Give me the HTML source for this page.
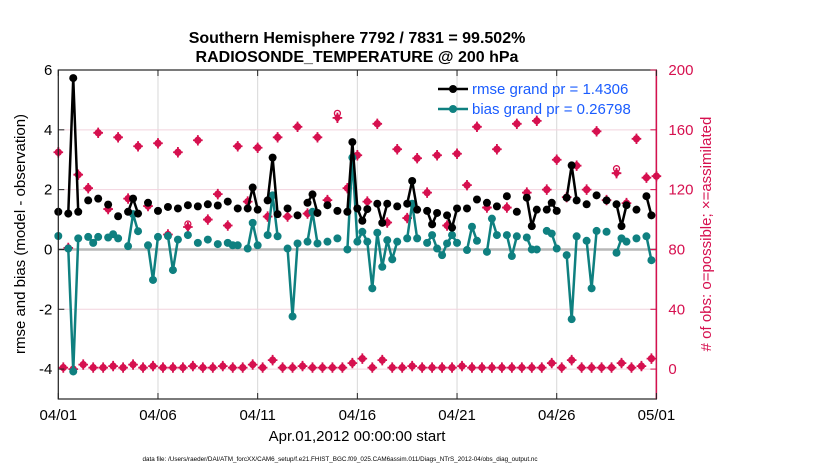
<!DOCTYPE html>
<html><head><meta charset="utf-8"><style>
body{margin:0;background:#fff;}
svg text{font-family:"Liberation Sans",sans-serif;}
</style></head><body>
<svg id="chart" width="830" height="470" viewBox="0 0 830 470" xmlns="http://www.w3.org/2000/svg">
<rect width="830" height="470" fill="#fff"/>
<g id="grid"></g>
<g id="series"></g>
<g id="axes"></g>
<text x="357" y="43" text-anchor="middle" font-size="16" font-weight="bold">Southern Hemisphere 7792 / 7831 = 99.502%</text>
<text x="357" y="62" text-anchor="middle" font-size="16" font-weight="bold">RADIOSONDE_TEMPERATURE @ 200 hPa</text>
<text x="357" y="441" text-anchor="middle" font-size="15">Apr.01,2012 00:00:00 start</text>
<text transform="translate(25,234) rotate(-90)" text-anchor="middle" font-size="15">rmse and bias (model - observation)</text>
<text transform="translate(711,234) rotate(-90)" text-anchor="middle" font-size="15" fill="#d6104f"># of obs: o=possible; ×=assimilated</text>
<text x="340" y="461" text-anchor="middle" font-size="6.3">data file: /Users/raeder/DAI/ATM_forcXX/CAM6_setup/f.e21.FHIST_BGC.f09_025.CAM6assim.011/Diags_NTrS_2012-04/obs_diag_output.nc</text>
<g>
<line x1="438" y1="89" x2="468" y2="89" stroke="#000" stroke-width="2.5"/><circle cx="453" cy="89" r="4" fill="#000"/>
<text x="472" y="94" font-size="15" fill="#1a5cff">rmse grand pr = 1.4306</text>
<line x1="438" y1="109" x2="468" y2="109" stroke="#0f8080" stroke-width="2.5"/><circle cx="453" cy="109" r="4" fill="#0f8080"/>
<text x="472" y="114" font-size="15" fill="#1a5cff">bias grand pr = 0.26798</text>
</g>
</svg>
<script>
const N = 121; // 6-hourly steps, day = k/4
const rmseSteps = [0,2,3,4,6,8,10,12,14,15,16,18,20,22,24,26,28,30,32,34,36,38,39,40,42,43,44,46,48,50,51,52,54,56,58,59,60,61,62,64,65,66,68,70,71,72,74,75,76,78,79,80,82,84,86,88,90,92,94,95,96,98,99,100,102,103,104,106,108,110,112,113,114,116,118,119];
const rmseValues = [1.26,1.2,5.73,1.26,1.64,1.7,1.5,1.11,1.26,1.7,1.2,1.56,1.29,1.42,1.37,1.48,1.44,1.51,1.47,1.6,1.37,1.37,2.07,1.33,1.64,3.07,1.18,1.37,1.14,1.56,1.84,1.22,1.48,1.29,1.26,3.59,1.37,0.96,1.35,1.53,0.89,1.53,1.44,1.53,2.29,1.33,1.29,0.84,1.22,1.14,0.73,1.37,1.37,1.67,1.56,1.44,1.78,1.26,1.73,0.78,1.33,1.33,1.56,1.29,1.73,2.81,1.64,1.51,1.81,1.64,1.51,0.78,1.48,1.33,1.78,1.14];
const biasSteps = [0,2,3,4,6,7,8,10,11,12,14,15,16,18,19,20,22,23,24,26,28,30,32,34,35,36,38,39,40,42,43,44,46,47,48,50,51,52,54,56,58,59,60,61,62,63,64,65,66,67,68,70,71,72,74,75,76,77,78,79,80,82,83,84,86,87,88,90,91,92,94,95,96,98,99,100,102,103,104,106,107,108,110,112,113,114,116,118,119];
const biasValues = [0.45,0.03,-4.08,0.37,0.42,0.22,0.42,0.4,0.51,0.37,0.11,1.18,0.61,0.14,-1.02,0.42,0.45,-0.69,0.33,0.48,0.22,0.33,0.18,0.22,0.14,0.14,0.03,0.89,0.14,0.48,1.81,0.44,0.03,-2.24,0.2,0.26,1.26,0.2,0.26,0.37,0,3.07,0.26,0.59,0.26,-1.3,0.56,-0.58,0.31,-0.33,0.26,0.37,1.53,0.37,0.22,0.48,0.03,-0.19,0.2,0.48,0.22,-0.02,0.76,0.29,-0.08,1.03,0.48,0.48,-0.22,0.44,0.4,0,0,0.62,0.53,0.03,-0.19,-2.33,0.44,0.29,-1.3,0.62,0.59,-0.11,0.37,0.26,0.37,0.44,-0.36];
const obsEven = [145,81,130,121,158,107,155,114,149,109,151,90,145,95,153,100,117,96,149,112,148,102,155,102,162,104,155,113,168,121,143,112,164,98,147,101,141,118,143,96,144,123,162,108,147,108,164,118,166,120,140,115,136,120,159,113,131,111,154,128,129];
const obsOdd = [1,0,3,1,1,2,1,3,1,2,1,1,1,2,1,1,2,1,1,3,1,6,1,1,2,1,1,1,1,4,7,1,6,1,1,2,1,1,1,1,2,1,1,1,1,1,1,1,1,4,1,6,1,1,1,1,4,1,2,7];
const possibleExtra = {56:3,112:3,26:2,12:0};
const xTickLabels = ["04/01","04/06","04/11","04/16","04/21","04/26","05/01"];
const leftTicks = [6,4,2,0,-2,-4];
const rightTicks = [200,160,120,80,40,0];

const X0=58.3, X1=656.4, Y0=70, Y1=399;
const xs = d => X0 + (X1-X0)*d/30;
const yl = v => Y0 + (6-v)*(Y1-Y0)/11;
const yr = v => Y0 + (200-v)*(Y1-Y0)/220;
const NS="http://www.w3.org/2000/svg";
function mk(tag, attrs, parent){const e=document.createElementNS(NS,tag);for(const k in attrs)e.setAttribute(k,attrs[k]);parent.appendChild(e);return e;}
const grid=document.getElementById('grid'), ser=document.getElementById('series'), axes=document.getElementById('axes');

xTickLabels.forEach((t,i)=>{const x=xs(i*5);
 const g=mk('line',{x1:x,y1:Y0,x2:x,y2:Y1,stroke:'#d8d8d8','stroke-width':1},grid);
 
 });
rightTicks.forEach(v=>{const y=yr(v);
 const g=mk('line',{x1:X0,y1:y,x2:X1,y2:y,stroke:'#f2d3de','stroke-width':1},grid);
 
 });
const zl=mk('line',{x1:X0,y1:yl(0),x2:X1,y2:yl(0),stroke:'#b8b8b8','stroke-width':2.5},grid);



function obsMarker(k,v,extra){
 const x=xs(k/4), y=yr(v);
 const g=mk('g',{},ser);
 
 
 mk('circle',{cx:x,cy:yr(v+extra),r:3,fill:'none',stroke:'#d6104f','stroke-width':1.3},g);
 mk('path',{d:`M${x} ${y-4.8}L${x+3.8} ${y}L${x} ${y+4.8}L${x-3.8} ${y}Z`,fill:'#d6104f'},g);
 mk('path',{d:`M${x-4.8} ${y}H${x+4.8}M${x} ${y-5.2}V${y+5.2}`,stroke:'#d6104f','stroke-width':1.8},g);
}
obsEven.forEach((v,i)=>obsMarker(i*2,v,possibleExtra[i*2]||0));
obsOdd.forEach((v,i)=>obsMarker(i*2+1,v,0));

function drawSeries(steps, vals, color, name){
 let seg=[];
 const segs=[];
 steps.forEach((k,i)=>{ if(i>0 && k!==steps[i-1]+1){segs.push(seg);seg=[];} seg.push([xs(k/4),yl(vals[i])]); });
 segs.push(seg);
 segs.forEach(s=>{ if(s.length>1){
  const p=mk('polyline',{points:s.map(q=>q.join(',')).join(' '),fill:'none',stroke:color,'stroke-width':2.5,'stroke-linejoin':'round'},ser);
  
  }});
 steps.forEach((k,i)=>{
  const c=mk('circle',{cx:xs(k/4),cy:yl(vals[i]),r:4,fill:color},ser);
  
  });
}
drawSeries(biasSteps,biasValues,'#0f8080','bias');
drawSeries(rmseSteps,rmseValues,'#000','rmse');

mk('rect',{x:X0,y:Y0,width:X1-X0,height:Y1-Y0,fill:'none',stroke:'#222','stroke-width':1.2},axes);
const ra=mk('line',{x1:X1,y1:Y0,x2:X1,y2:Y1,stroke:'#d6104f','stroke-width':1.5},axes);


xTickLabels.forEach((t,i)=>{const x=xs(i*5);
 mk('line',{x1:x,y1:Y1,x2:x,y2:Y1-6,stroke:'#222'},axes);
 mk('line',{x1:x,y1:Y0,x2:x,y2:Y0+6,stroke:'#222'},axes);
 const tx=mk('text',{x:x,y:Y1+21,'text-anchor':'middle','font-size':15},axes);
 tx.textContent=t;
 
 });
leftTicks.forEach(v=>{const y=yl(v);
 mk('line',{x1:X0,y1:y,x2:X0+6,y2:y,stroke:'#222'},axes);
 const tx=mk('text',{x:X0-6,y:y+5,'text-anchor':'end','font-size':15},axes);
 tx.textContent=String(v);
 
 });
rightTicks.forEach(v=>{const y=yr(v);
 mk('line',{x1:X1,y1:y,x2:X1-6,y2:y,stroke:'#d6104f'},axes);
 const tx=mk('text',{x:X1+12,y:y+5,'text-anchor':'start','font-size':15,fill:'#d6104f'},axes);
 tx.textContent=String(v);
 
 });
</script>
</body></html>
